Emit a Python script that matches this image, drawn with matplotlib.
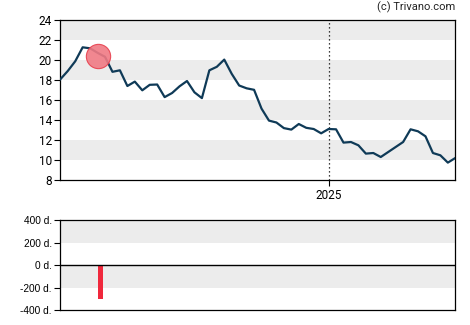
import matplotlib
matplotlib.use("Agg")
import matplotlib.pyplot as plt
import numpy as np

# ---- data ----
prices = [18.1, 18.93, 19.9, 21.3, 21.2, 20.75, 20.35, 18.85, 19.0, 17.43,
          17.87, 17.0, 17.55, 17.58, 16.32, 16.73, 17.4, 17.93, 16.8, 16.22,
          19.0, 19.35, 20.07, 18.65, 17.48, 17.2, 17.05, 15.17, 13.97, 13.78,
          13.22, 13.07, 13.63, 13.25, 13.13, 12.7, 13.13, 13.1, 11.77, 11.83,
          11.5, 10.67, 10.73, 10.33, 10.83, 11.33, 11.83, 13.1, 12.9, 12.4,
          10.73, 10.5, 9.77, 10.23]
weeks = list(range(len(prices)))
year_tick_week = 36
year_tick_label = "2025"
signal_week = 5
signal_value = 20.43
bar_week = [5.4]
bar_days = [-302]
price_ticks = [8, 10, 12, 14, 16, 18, 20, 22, 24]
day_ticks = [-400, -200, 0, 200, 400]
day_tick_labels = ["-400 d.", "-200 d.", "0 d.", "200 d.", "400 d."]
credit = "(c) Trivano.com"

plt.rcParams['font.family'] = ['Roboto', 'DejaVu Sans']

fig = plt.figure(figsize=(4.7, 3.25), dpi=100)
ax = fig.add_axes([0.1283, 0.4452, 0.8404, 0.4923])
ax2 = fig.add_axes([0.1283, 0.0452, 0.8404, 0.2769])

band = '#ececec'
xmin, xmax = weeks[0], weeks[-1]

# top panel
for lo in range(8, 24, 4):
    ax.axhspan(lo + 2, lo + 4, color=band, lw=0, zorder=0)
ax.plot(weeks, prices, color='#0f3a57', lw=1.6, zorder=3, solid_joinstyle='round')
ax.plot([signal_week], [signal_value], 'o', ms=17.5, mfc='#f07a84', mec='#e8404e',
        mew=0.8, alpha=0.9, zorder=4)
ax.axvline(year_tick_week, color='black', ls=(0, (1, 2.2)), lw=0.9, zorder=2)
ax.set_xlim(xmin, xmax)
ax.set_ylim(8, 24)
ax.set_yticks(price_ticks)
ax.set_xticks([year_tick_week])
ax.set_xticklabels([year_tick_label])
ax.tick_params(axis='both', labelsize=8.5, length=4, width=0.8, pad=2, colors='black')
for s in ax.spines.values():
    s.set_linewidth(0.9)

ax.text(1.0, 1.045, credit, transform=ax.transAxes, ha='right', va='bottom',
        fontsize=8, color='#222222')

# bottom panel
ax2.axhspan(200, 400, color=band, lw=0, zorder=0)
ax2.axhspan(-200, 0, color=band, lw=0, zorder=0)
ax2.bar(bar_week, bar_days, width=0.72, color='#f0283c', zorder=2)
ax2.axhline(0, color='black', lw=1.0, zorder=3)
ax2.set_xlim(xmin, xmax)
ax2.set_ylim(-400, 400)
ax2.set_yticks(day_ticks)
ax2.set_yticklabels(day_tick_labels, family=['Liberation Sans', 'DejaVu Sans'])
ax2.set_xticks([])
ax2.tick_params(axis='y', labelsize=7.3, length=4, width=0.8, pad=2)
for s in ax2.spines.values():
    s.set_linewidth(0.9)

fig.savefig("out.png", dpi=100)
